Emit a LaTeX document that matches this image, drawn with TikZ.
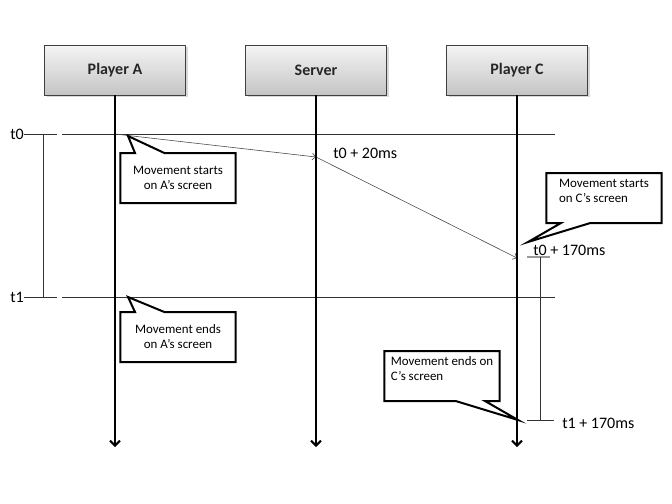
\documentclass[tikz,border=0pt]{standalone}
\usepackage{fontspec}
\setmainfont{Carlito}
\usetikzlibrary{arrows.meta,shapes.callouts,shadows}
\tikzset{
  actor/.style={draw=black!75, top color=black!4, bottom color=black!23,
    minimum width=105.75pt, minimum height=37.5pt, text=black!85,
    font=\bfseries\fontsize{12}{14}\selectfont,
    drop shadow={shadow xshift=1.5pt, shadow yshift=-1.5pt, opacity=0.3}},
  lifeline/.style={line width=1.5pt, -{Straight Barb[length=3.75pt,width=7.5pt,line width=1.5pt]}},
  msg/.style={draw=black!70, line width=0.45pt, -{Straight Barb[length=2.5pt,width=5pt]}},
  timeline/.style={draw=black!80, line width=0.6pt},
  note/.style={rectangle callout, draw, line width=1.5pt, fill=white,
    minimum width=86.5pt, minimum height=37.5pt, callout pointer width=22pt,
    font=\fontsize{9.7}{11.25}\selectfont, align=center},
  stamp/.style={font=\fontsize{12}{14}\selectfont, anchor=west, inner sep=0pt}
}
\begin{document}
\begin{tikzpicture}[x=0.75pt, y=-0.75pt]
  \useasboundingbox (0,0) rectangle (672,504);
  \foreach \name/\x/\who in {pa/115/Player A, srv/316/Server, pc/517/Player C} {
    \node[actor] (\name) at (\x,70) {\who};
    \coordinate (\name-end) at (\x,447);
  }
  \node[stamp] (t0) at (10,134) {t0};
  \node[stamp] (t1) at (10,297) {t1};
  \foreach \t/\y in {t0/134, t1/297} {
    \coordinate (\t-gap) at (57,\y);
    \coordinate (\t-from) at (62,\y);
    \coordinate (\t-to) at (555,\y);
    \draw[timeline] (\t.east) -- (\t-gap) (\t-from) -- (\t-to);
  }
  \coordinate (brk-top) at (43,134);
  \coordinate (brk-bot) at (43,297);
  \draw[timeline] (brk-top) -- (brk-bot);

  \coordinate (srv-rcv) at (316,157);
  \coordinate (pc-rcv) at (517,258);
  \draw[msg] (pa |- t0-to) -- (srv-rcv);
  \draw[msg] (srv-rcv) -- (pc-rcv);
  \foreach \name in {pa, srv, pc}
    \draw[lifeline] (\name.south) -- (\name-end);

  \node[stamp] (s20) at (333,153) {t0 + 20ms};
  \node[stamp] (s170) at (533,250) {t0 + 170ms};
  \node[stamp] (e170) at (562,423) {t1 + 170ms};
  \coordinate (c0a) at (527,257);
  \coordinate (c0b) at (550,257);
  \coordinate (c1a) at (527,420);
  \coordinate (c1b) at (554,420);
  \coordinate (cbr-top) at (540,257);
  \coordinate (cbr-bot) at (540,420);
  \draw[black!40, line width=0.8pt] (c0a) -- (c0b);
  \draw[timeline] (c1a) -- (c1b) (cbr-top) -- (cbr-bot);

  \coordinate (tip-a0) at (128,136);
  \coordinate (tip-a1) at (128,297);
  \coordinate (tip-c0) at (528,242);
  \coordinate (tip-c1) at (518,420);
  \node[note, callout absolute pointer={(tip-a0)}] (na0) at (178,178) {Movement starts\\on A’s screen};
  \node[note, callout absolute pointer={(tip-a1)}] (na1) at (178,337) {Movement ends\\on A’s screen};
  \node[note, align=left, callout absolute pointer={(tip-c0)}] (nc0) at (604,198) {Movement starts\\on C’s screen\\\mbox{}};
  \node[note, align=left, callout absolute pointer={(tip-c1)}] (nc1) at (442,376) {Movement ends on\\C’s screen\\\mbox{}};
\end{tikzpicture}
\end{document}
